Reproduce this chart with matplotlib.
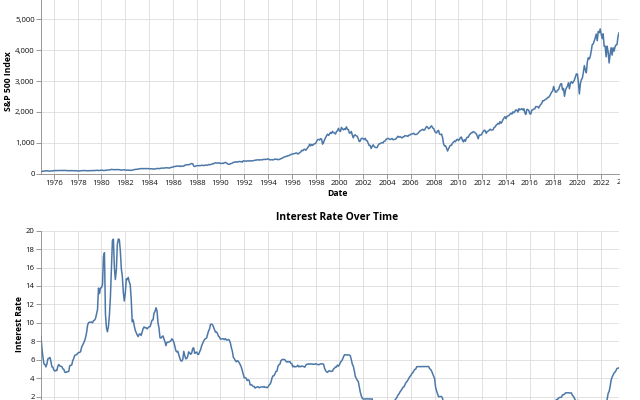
import matplotlib
matplotlib.use("Agg")
import matplotlib.pyplot as plt
import matplotlib.dates as mdates
from matplotlib.transforms import Bbox, blended_transform_factory
from matplotlib import font_manager
import pandas as pd

START_MONTH = "1974-12-01"

# month-end S&P 500 level, Dec 1974 .. Jul 2023
sp500 = [
    68.6,
    77.0, 81.6, 83.4, 87.3, 91.2, 95.2, 88.8, 86.9, 83.9, 89.0, 91.2, 90.2,
    100.9, 99.7, 102.8, 101.6, 100.2, 104.3, 103.4, 102.9, 105.2, 102.9, 102.1, 107.5,
    102.0, 99.8, 98.4, 98.4, 96.1, 100.5, 98.9, 96.8, 96.5, 92.3, 94.8, 95.1,
    89.3, 87.0, 89.2, 96.8, 97.2, 95.5, 100.7, 103.3, 102.5, 93.2, 94.7, 96.1,
    99.9, 96.3, 101.6, 101.8, 99.1, 102.9, 103.8, 109.3, 109.3, 101.8, 106.2, 107.9,
    114.2, 113.7, 102.1, 106.3, 111.2, 114.2, 121.7, 122.4, 125.5, 127.5, 140.5, 135.8,
    129.6, 131.3, 136.0, 132.8, 132.6, 131.2, 130.9, 122.8, 116.2, 121.9, 126.4, 122.6,
    120.4, 113.1, 112.0, 116.4, 111.9, 109.6, 107.1, 119.5, 120.4, 133.7, 138.5, 140.6,
    145.3, 148.1, 153.0, 164.4, 162.4, 168.1, 162.6, 164.4, 166.1, 163.6, 166.4, 164.9,
    163.4, 157.1, 159.2, 160.1, 150.6, 153.2, 150.7, 166.7, 166.1, 166.1, 163.6, 167.2,
    179.6, 181.2, 180.7, 179.8, 189.6, 191.9, 190.9, 188.6, 182.1, 189.8, 202.2, 211.3,
    211.8, 226.9, 238.9, 235.5, 247.4, 250.8, 236.1, 252.9, 231.3, 244.0, 249.2, 242.2,
    274.1, 284.2, 291.7, 288.4, 290.1, 304.0, 318.7, 329.8, 321.8, 251.8, 230.3, 247.1,
    257.1, 267.8, 258.9, 261.3, 262.2, 273.5, 272.0, 261.5, 271.9, 279.0, 273.7, 277.7,
    297.5, 288.9, 294.9, 309.6, 320.5, 318.0, 346.1, 351.5, 349.2, 340.4, 346.0, 353.4,
    329.1, 331.9, 339.9, 330.8, 361.2, 358.0, 356.2, 322.6, 306.1, 304.0, 322.2, 330.2,
    343.9, 367.1, 375.2, 375.4, 389.8, 371.2, 387.8, 395.4, 387.9, 392.5, 375.2, 417.1,
    408.8, 412.7, 403.7, 415.0, 415.4, 408.1, 424.2, 414.0, 417.8, 418.7, 431.4, 435.7,
    438.8, 443.4, 451.7, 440.2, 450.2, 450.5, 448.1, 463.6, 458.9, 467.8, 461.8, 466.5,
    481.6, 467.1, 445.8, 450.9, 456.5, 444.3, 458.3, 475.5, 462.7, 472.4, 453.7, 459.3,
    470.4, 487.4, 500.7, 514.7, 533.4, 544.8, 562.1, 561.9, 584.4, 581.5, 605.4, 615.9,
    636.0, 640.4, 645.5, 654.2, 669.1, 670.6, 640.0, 652.0, 687.3, 705.3, 757.0, 740.7,
    786.2, 790.8, 757.1, 801.3, 848.3, 885.1, 954.3, 899.5, 947.3, 914.6, 955.4, 970.4,
    980.3, 1049.3, 1101.8, 1111.8, 1090.8, 1133.8, 1120.7, 957.3, 1017.0, 1098.7, 1163.6, 1229.2,
    1279.6, 1238.3, 1286.4, 1335.2, 1301.8, 1372.7, 1328.7, 1320.4, 1282.7, 1362.9, 1388.9, 1469.3,
    1394.5, 1366.4, 1498.6, 1452.4, 1420.6, 1454.6, 1430.8, 1517.7, 1436.5, 1429.4, 1315.0, 1320.3,
    1366.0, 1239.9, 1160.3, 1249.5, 1255.8, 1224.4, 1211.2, 1133.6, 1040.9, 1059.8, 1139.5, 1148.1,
    1130.2, 1106.7, 1147.4, 1076.9, 1067.1, 989.8, 911.6, 916.1, 815.3, 885.8, 936.3, 879.8,
    855.7, 841.2, 848.2, 916.9, 963.6, 974.5, 990.3, 1008.0, 996.0, 1050.7, 1058.2, 1111.9,
    1131.1, 1144.9, 1126.2, 1107.3, 1120.7, 1140.8, 1101.7, 1104.2, 1114.6, 1130.2, 1173.8, 1211.9,
    1181.3, 1203.6, 1180.6, 1156.9, 1191.5, 1191.3, 1234.2, 1220.3, 1228.8, 1207.0, 1249.5, 1248.3,
    1280.1, 1280.7, 1294.9, 1310.6, 1270.1, 1270.2, 1276.7, 1303.8, 1335.9, 1377.9, 1400.6, 1418.3,
    1438.2, 1406.8, 1420.9, 1482.4, 1530.6, 1503.4, 1455.3, 1474.0, 1526.8, 1549.4, 1481.1, 1468.4,
    1378.6, 1330.6, 1322.7, 1385.6, 1400.4, 1280.0, 1267.4, 1282.8, 1166.4, 968.8, 896.2, 903.3,
    825.9, 735.1, 797.9, 872.8, 919.1, 919.3, 987.5, 1020.6, 1057.1, 1036.2, 1095.6, 1115.1,
    1073.9, 1104.5, 1169.4, 1186.7, 1089.4, 1030.7, 1101.6, 1049.3, 1141.2, 1183.3, 1180.6, 1257.6,
    1286.1, 1327.2, 1325.8, 1363.6, 1345.2, 1320.6, 1292.3, 1218.9, 1131.4, 1253.3, 1247.0, 1257.6,
    1312.4, 1365.7, 1408.5, 1397.9, 1310.3, 1362.2, 1379.3, 1406.6, 1440.7, 1412.2, 1416.2, 1426.2,
    1498.1, 1514.7, 1569.2, 1597.6, 1630.7, 1606.3, 1685.7, 1633.0, 1681.6, 1756.5, 1805.8, 1848.4,
    1782.6, 1859.5, 1872.3, 1884.0, 1923.6, 1960.2, 1930.7, 2003.4, 1972.3, 2018.1, 2067.6, 2058.9,
    1995.0, 2104.5, 2067.9, 2085.5, 2107.4, 2063.1, 2103.8, 1972.2, 1920.0, 2079.4, 2080.4, 2043.9,
    1940.2, 1932.2, 2059.7, 2065.3, 2097.0, 2098.9, 2173.6, 2171.0, 2168.3, 2126.2, 2198.8, 2238.8,
    2278.9, 2363.6, 2362.7, 2384.2, 2411.8, 2423.4, 2470.3, 2471.7, 2519.4, 2575.3, 2647.6, 2673.6,
    2823.8, 2713.8, 2640.9, 2648.1, 2705.3, 2718.4, 2816.3, 2901.5, 2914.0, 2711.7, 2760.2, 2506.9,
    2704.1, 2784.5, 2834.4, 2945.8, 2752.1, 2941.8, 2980.4, 2926.5, 2976.7, 3037.6, 3141.0, 3230.8,
    3225.5, 2954.2, 2584.6, 2912.4, 3044.3, 3100.3, 3271.1, 3500.3, 3363.0, 3270.0, 3621.6, 3756.1,
    3714.2, 3811.2, 3972.9, 4181.2, 4204.1, 4297.5, 4395.3, 4522.7, 4307.5, 4605.4, 4567.0, 4690.0,
    4515.6, 4373.9, 4530.4, 4131.9, 4132.2, 3785.4, 4130.3, 3955.0, 3585.6, 3872.0, 4080.1, 3839.5,
    4076.6, 3970.2, 4109.3, 4169.5, 4179.8, 4450.4, 4560.0,
]

# monthly federal funds rate (%), Dec 1974 .. Jul 2023
interest_rate = [
    8.53,
    7.13, 6.24, 5.54, 5.49, 5.22, 5.55, 6.10, 6.14, 6.24, 5.82, 5.22, 5.20,
    4.87, 4.77, 4.84, 4.82, 5.29, 5.48, 5.31, 5.29, 5.25, 5.02, 4.95, 4.65,
    4.61, 4.68, 4.69, 4.73, 5.35, 5.39, 5.42, 5.90, 6.14, 6.47, 6.51, 6.56,
    6.70, 6.78, 6.79, 6.89, 7.36, 7.60, 7.81, 8.04, 8.45, 8.96, 9.76, 10.03,
    10.07, 10.06, 10.09, 10.01, 10.24, 10.29, 10.47, 10.94, 11.43, 13.77, 13.18, 13.78,
    13.82, 14.13, 17.19, 17.61, 10.98, 9.47, 9.03, 9.61, 10.87, 12.81, 15.85, 18.90,
    19.08, 15.93, 14.70, 15.72, 18.52, 19.10, 19.04, 17.82, 15.87, 15.08, 13.31, 12.37,
    13.22, 14.78, 14.68, 14.94, 14.45, 14.15, 12.59, 10.12, 10.31, 9.71, 9.20, 8.95,
    8.68, 8.51, 8.77, 8.80, 8.63, 8.98, 9.37, 9.56, 9.45, 9.48, 9.34, 9.47,
    9.56, 9.59, 9.91, 10.29, 10.32, 11.06, 11.23, 11.64, 11.30, 9.99, 9.43, 8.38,
    8.35, 8.50, 8.58, 8.27, 7.97, 7.53, 7.88, 7.90, 7.92, 7.99, 8.05, 8.27,
    8.14, 7.86, 7.48, 6.99, 6.85, 6.92, 6.56, 6.17, 5.89, 5.85, 6.04, 6.91,
    6.43, 6.10, 6.13, 6.37, 6.85, 6.73, 6.58, 6.73, 7.22, 7.29, 6.69, 6.77,
    6.83, 6.58, 6.58, 6.87, 7.09, 7.51, 7.75, 8.01, 8.19, 8.30, 8.35, 8.76,
    9.12, 9.36, 9.85, 9.84, 9.81, 9.53, 9.24, 8.99, 9.02, 8.84, 8.55, 8.45,
    8.23, 8.24, 8.28, 8.26, 8.18, 8.29, 8.15, 8.13, 8.20, 8.11, 7.81, 7.31,
    6.91, 6.25, 6.12, 5.91, 5.78, 5.90, 5.82, 5.66, 5.45, 5.21, 4.81, 4.43,
    4.03, 4.06, 3.98, 3.73, 3.82, 3.76, 3.25, 3.30, 3.22, 3.10, 3.09, 2.92,
    3.02, 3.03, 3.07, 2.96, 3.00, 3.04, 3.06, 3.03, 3.09, 2.99, 3.02, 2.96,
    3.05, 3.25, 3.34, 3.56, 4.01, 4.25, 4.26, 4.47, 4.73, 4.76, 5.29, 5.45,
    5.53, 5.92, 5.98, 6.05, 6.01, 6.00, 5.85, 5.74, 5.80, 5.76, 5.80, 5.60,
    5.56, 5.22, 5.31, 5.22, 5.24, 5.27, 5.40, 5.22, 5.30, 5.24, 5.31, 5.29,
    5.25, 5.19, 5.39, 5.51, 5.50, 5.56, 5.52, 5.54, 5.54, 5.50, 5.52, 5.50,
    5.56, 5.51, 5.49, 5.45, 5.49, 5.56, 5.54, 5.55, 5.51, 5.07, 4.83, 4.68,
    4.63, 4.76, 4.81, 4.74, 4.74, 4.76, 4.99, 5.07, 5.22, 5.20, 5.42, 5.30,
    5.45, 5.73, 5.85, 6.02, 6.27, 6.53, 6.54, 6.50, 6.52, 6.51, 6.51, 6.40,
    5.98, 5.49, 5.31, 4.80, 4.21, 3.97, 3.77, 3.65, 3.07, 2.49, 2.09, 1.82,
    1.73, 1.74, 1.73, 1.75, 1.75, 1.75, 1.73, 1.74, 1.75, 1.75, 1.34, 1.24,
    1.24, 1.26, 1.25, 1.26, 1.26, 1.22, 1.01, 1.03, 1.01, 1.01, 1.00, 0.98,
    1.00, 1.01, 1.00, 1.00, 1.00, 1.03, 1.26, 1.43, 1.61, 1.76, 1.93, 2.16,
    2.28, 2.50, 2.63, 2.79, 3.00, 3.04, 3.26, 3.50, 3.62, 3.78, 4.00, 4.16,
    4.29, 4.49, 4.59, 4.79, 4.94, 4.99, 5.24, 5.25, 5.25, 5.25, 5.25, 5.24,
    5.25, 5.26, 5.26, 5.25, 5.25, 5.25, 5.26, 5.02, 4.94, 4.76, 4.49, 4.24,
    3.94, 2.98, 2.61, 2.28, 1.98, 2.00, 2.01, 2.00, 1.81, 0.97, 0.39, 0.16,
    0.15, 0.22, 0.18, 0.15, 0.18, 0.21, 0.16, 0.16, 0.15, 0.12, 0.12, 0.12,
    0.11, 0.13, 0.16, 0.20, 0.20, 0.18, 0.18, 0.19, 0.19, 0.19, 0.19, 0.18,
    0.17, 0.16, 0.14, 0.10, 0.09, 0.09, 0.07, 0.10, 0.08, 0.07, 0.08, 0.07,
    0.08, 0.10, 0.13, 0.14, 0.16, 0.16, 0.16, 0.13, 0.14, 0.16, 0.16, 0.16,
    0.14, 0.15, 0.14, 0.15, 0.11, 0.09, 0.09, 0.08, 0.08, 0.09, 0.08, 0.09,
    0.07, 0.07, 0.08, 0.09, 0.09, 0.10, 0.09, 0.09, 0.09, 0.09, 0.09, 0.12,
    0.11, 0.11, 0.11, 0.12, 0.12, 0.13, 0.13, 0.14, 0.14, 0.12, 0.12, 0.24,
    0.34, 0.38, 0.36, 0.37, 0.37, 0.38, 0.39, 0.40, 0.40, 0.40, 0.41, 0.54,
    0.65, 0.66, 0.79, 0.90, 0.91, 1.04, 1.15, 1.16, 1.15, 1.15, 1.16, 1.30,
    1.41, 1.42, 1.51, 1.69, 1.70, 1.82, 1.91, 1.91, 1.95, 2.19, 2.20, 2.27,
    2.40, 2.40, 2.41, 2.42, 2.39, 2.38, 2.40, 2.13, 2.04, 1.83, 1.55, 1.55,
    1.55, 1.58, 0.65, 0.05, 0.05, 0.08, 0.09, 0.10, 0.09, 0.09, 0.09, 0.09,
    0.09, 0.08, 0.07, 0.07, 0.06, 0.08, 0.10, 0.09, 0.08, 0.08, 0.08, 0.08,
    0.08, 0.08, 0.20, 0.33, 0.77, 1.21, 1.68, 2.33, 2.56, 3.08, 3.78, 4.10,
    4.33, 4.57, 4.65, 4.83, 5.06, 5.08, 5.12,
]

sp_ticks = [0, 1000, 2000, 3000, 4000, 5000]
rate_ticks = [0, 2, 4, 6, 8, 10, 12, 14, 16, 18, 20]

# pick a family that really ships a bold face
BOLD_FAMILY = "DejaVu Sans"
for fam in ["Open Sans", "Noto Sans"]:
    try:
        f = font_manager.findfont(font_manager.FontProperties(family=fam, weight="bold"),
                                  fallback_to_default=False)
        if "bold" in f.lower():
            BOLD_FAMILY = fam
            break
    except ValueError:
        pass

plt.rcParams['font.family'] = ['Open Sans', 'Noto Sans', 'DejaVu Sans']

W, H = 640, 400
LINE = "#4c78a8"
GRID = "#dddddd"
AXIS = "#888888"

dates = pd.date_range(START_MONTH, periods=len(sp500), freq="MS")
xmin = pd.Timestamp(START_MONTH)
xmax = dates[-1]


def px_axes(left, top, right, bottom):
    return fig.add_axes([left / W, 1 - bottom / H, (right - left) / W, (bottom - top) / H])


def style(ax):
    ax.set_xlim(xmin, xmax)
    ax.xaxis.set_major_locator(mdates.YearLocator(2))
    ax.xaxis.set_major_formatter(mdates.DateFormatter("%Y"))
    ax.grid(True, color=GRID, linewidth=0.6)
    ax.set_axisbelow(True)
    for side in ["top", "right"]:
        ax.spines[side].set_visible(False)
    for side in ["left", "bottom"]:
        ax.spines[side].set_color(AXIS)
        ax.spines[side].set_linewidth(0.6)
    ax.tick_params(length=3.6, width=0.6, color=AXIS, labelsize=5.6, labelcolor="#111111")
    ax.tick_params(axis="x", pad=1.2)
    ax.tick_params(axis="y", pad=1.0)


fig = plt.figure(figsize=(W / 100, H / 100), dpi=100)

ax1 = px_axes(41, -2, 619, 173.7)
style(ax1)
ax1.plot(dates, sp500, color=LINE, linewidth=1.1)
ax1.set_ylim(0, 5000 * 175.7 / 154.4)
ax1.set_yticks(sp_ticks)
ax1.set_yticklabels(["{:,}".format(v) for v in sp_ticks])
fig.text(337 / W, 1 - 194 / H, "Date", ha="center", va="center", fontsize=6.2,
         fontweight="bold", family=BOLD_FAMILY)
fig.text(9 / W, 1 - 81 / H, "S&P 500 Index", ha="center", va="center", rotation=90,
         fontsize=6.2, fontweight="bold", family=BOLD_FAMILY)

# 2024 tick sits just past the axis end, its label is cut at the edge
lab = ax1.text(pd.Timestamp("2024-01-01"), 1 - 182.7 / H, "2024", ha="center", va="center",
               fontsize=5.6, color="#111111",
               transform=blended_transform_factory(ax1.transData, fig.transFigure))
lab.set_clip_on(True)
lab.set_clip_box(Bbox.from_extents(0, 0, 620, H))

ax2 = px_axes(41, 230.7, 619, 415)
style(ax2)
ax2.tick_params(axis="x", labelbottom=False)
ax2.plot(dates, interest_rate, color=LINE, linewidth=1.1)
ax2.set_ylim(0, 20)
ax2.set_yticks(rate_ticks)
fig.text(337 / W, 1 - 217.7 / H, "Interest Rate Over Time", ha="center", va="center",
         fontsize=7.4, fontweight="bold", family=BOLD_FAMILY)
fig.text(20 / W, 1 - 323.7 / H, "Interest Rate", ha="center", va="center", rotation=90,
         fontsize=6.2, fontweight="bold", family=BOLD_FAMILY)

fig.savefig("out.png", dpi=100)
